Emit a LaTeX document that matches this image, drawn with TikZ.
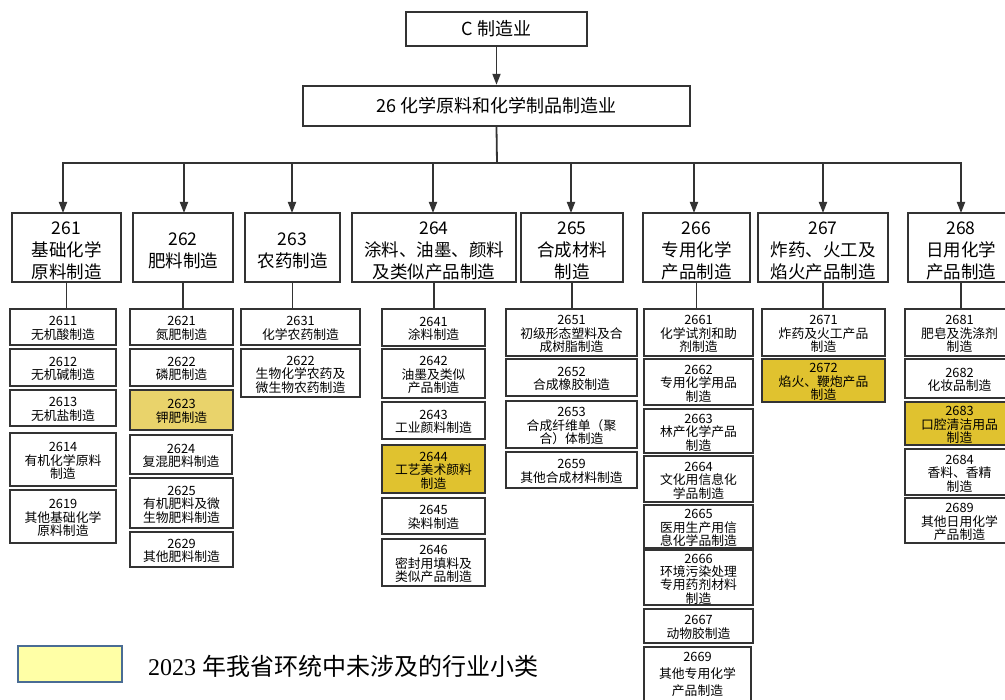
\documentclass[tikz,border=0pt]{standalone}
\usepackage{fontspec}
\setmainfont{Noto Sans CJK SC}
\newfontfamily\legfont{Liberation Serif}
\newfontfamily\cjkfont{Noto Sans CJK SC}
\usetikzlibrary{arrows.meta}
\definecolor{edge}{HTML}{333333}
\definecolor{goldA}{HTML}{E9D36B}
\definecolor{goldB}{HTML}{E0C22F}
\definecolor{legfill}{HTML}{FFFFA6}
\definecolor{legedge}{HTML}{4A6C94}
\tikzset{
  topframe/.style={draw=edge, line width=2.4pt, fill=white, inner sep=0pt},
  toptext/.style={inner sep=0pt, align=center, font=\fontsize{18}{22}\selectfont},
  midframe/.style={draw=edge, line width=2.6pt, fill=white, inner sep=0pt},
  midtext/.style={inner sep=0pt, align=center, yshift=-3pt, font=\fontsize{17.5}{22}\selectfont},
  subframe/.style={draw=edge, line width=1.8pt, fill=white, inner sep=0pt},
  subtext/.style={inner sep=0pt, align=center, yshift=-1.5pt, font=\fontsize{12.8}{13.4}\selectfont},
  hiA/.style={fill=goldA},
  hiB/.style={fill=goldB},
  conn/.style={draw=edge, line width=1.8pt},
  arr/.style={conn, -{Triangle[length=11pt,width=8pt]}},
}
% \bx{name}{x1}{y1}{x2}{y2}{frame style}{text style}{text}
\newcommand{\bx}[8]{%
  \pgfmathsetmacro{\bw}{#4-#2}\pgfmathsetmacro{\bh}{#5-#3}%
  \pgfmathsetmacro{\cx}{(#2+#4)/2}\pgfmathsetmacro{\cy}{(#3+#5)/2}%
  \node[#6, minimum width=\bw pt, minimum height=\bh pt] (#1) at (\cx,\cy) {};
  \node[#7] (#1-t) at (\cx,\cy) {#8};}
\begin{document}
\begin{tikzpicture}[x=1pt,y=-1pt]
\useasboundingbox (0,0) rectangle (1005,700);
\clip (0,0) rectangle (1005,700);
% top levels
\bx{C}{406}{12}{587}{46}{topframe}{toptext}{C 制造业}
\bx{n26}{303}{86}{690}{126}{topframe}{toptext}{26 化学原料和化学制品制造业}
\draw[arr] (C.south) -- (n26.north);
\coordinate (bus) at (497,163);
\draw[conn] (n26.south) -- (bus);
% level 2
\bx{n261}{12}{213}{121}{282}{midframe}{midtext}{261\\基础化学\\原料制造}
\bx{n262}{133}{213}{233}{282}{midframe}{midtext}{262\\肥料制造}
\bx{n263}{245}{213}{340}{282}{midframe}{midtext}{263\\农药制造}
\bx{n264}{352}{213}{516}{282}{midframe}{midtext}{264\\涂料、油墨、颜料\\及类似产品制造}
\bx{n265}{521}{213}{623}{282}{midframe}{midtext}{265\\合成材料\\制造}
\bx{n266}{643}{213}{750}{282}{midframe}{midtext}{266\\专用化学\\产品制造}
\bx{n267}{758}{213}{888}{282}{midframe}{midtext}{267\\炸药、火工及\\焰火产品制造}
\bx{n268}{908}{213}{1014}{282}{midframe}{midtext}{268\\日用化学\\产品制造}
\foreach \n/\x in {n261/63,n262/184,n263/292,n264/433,n265/571,n266/694,n267/823,n268/961}{
  \draw[arr] (bus) -| (\x,213);
}
% column 261
\bx{n2611}{10}{309}{116}{345}{subframe}{subtext}{2611\\无机酸制造}
\bx{n2612}{10}{349}{116}{386}{subframe}{subtext}{2612\\无机碱制造}
\bx{n2613}{10}{390}{116}{426}{subframe}{subtext}{2613\\无机盐制造}
\bx{n2614}{10}{433}{116}{486}{subframe}{subtext}{2614\\有机化学原料\\制造}
\bx{n2619}{10}{490}{116}{543}{subframe}{subtext}{2619\\其他基础化学\\原料制造}
% column 262
\bx{n2621}{130}{309}{233}{345}{subframe}{subtext}{2621\\氮肥制造}
\bx{n2622}{130}{349}{233}{386}{subframe}{subtext}{2622\\磷肥制造}
\bx{n2623}{130}{390}{233}{430}{subframe,hiA}{subtext}{2623\\钾肥制造}
\bx{n2624}{130}{435}{232}{474}{subframe}{subtext}{2624\\复混肥料制造}
\bx{n2625}{130}{478}{233}{528}{subframe}{subtext}{2625\\有机肥料及微\\生物肥料制造}
\bx{n2629}{130}{532}{233}{567}{subframe}{subtext}{2629\\其他肥料制造}
% column 263
\bx{n2631}{241}{309}{360}{345}{subframe}{subtext}{2631\\化学农药制造}
\bx{n2632}{241}{349}{360}{397}{subframe}{subtext}{2622\\生物化学农药及\\微生物农药制造}
% column 264
\bx{n2641}{382}{309}{485}{346}{subframe}{subtext}{2641\\涂料制造}
\bx{n2642}{382}{349}{485}{398}{subframe}{subtext}{2642\\油墨及类似\\产品制造}
\bx{n2643}{382}{402}{485}{439}{subframe}{subtext}{2643\\工业颜料制造}
\bx{n2644}{382}{445}{485}{493}{subframe,hiB}{subtext}{2644\\工艺美术颜料\\制造}
\bx{n2645}{382}{498}{485}{534}{subframe}{subtext}{2645\\染料制造}
\bx{n2646}{382}{539}{485}{586}{subframe}{subtext}{2646\\密封用填料及\\类似产品制造}
% column 265
\bx{n2651}{506}{309}{637}{356}{subframe}{subtext}{2651\\初级形态塑料及合\\成树脂制造}
\bx{n2652}{506}{359}{637}{396}{subframe}{subtext}{2652\\合成橡胶制造}
\bx{n2653}{506}{401}{637}{448}{subframe}{subtext}{2653\\合成纤维单（聚\\合）体制造}
\bx{n2659}{506}{452}{637}{488}{subframe}{subtext}{2659\\其他合成材料制造}
% column 266
\bx{n2661}{644}{309}{753}{356}{subframe}{subtext}{2661\\化学试剂和助\\剂制造}
\bx{n2662}{644}{359}{753}{405}{subframe}{subtext}{2662\\专用化学用品\\制造}
\bx{n2663}{644}{409}{753}{453}{subframe}{subtext}{2663\\林产化学产品\\制造}
\bx{n2664}{644}{456}{753}{502}{subframe}{subtext}{2664\\文化用信息化\\学品制造}
\bx{n2665}{644}{505}{753}{548}{subframe}{subtext}{2665\\医用生产用信\\息化学品制造}
\bx{n2666}{644}{550}{753}{605}{subframe}{subtext}{2666\\环境污染处理\\专用药剂材料\\制造}
\bx{n2667}{644}{609}{753}{643}{subframe}{subtext}{2667\\动物胶制造}
\bx{n2669}{644}{647}{751}{733}{subframe}{subtext,yshift=17.5pt,font=\fontsize{12.8}{17}\selectfont}{2669\\其他专用化学\\产品制造}
% column 267
\bx{n2671}{762}{309}{885}{356}{subframe}{subtext}{2671\\炸药及火工产品\\制造}
\bx{n2672}{762}{359}{885}{402}{subframe,hiB}{subtext}{2672\\焰火、鞭炮产品\\制造}
% column 268
\bx{n2681}{905}{309}{1014}{356}{subframe}{subtext}{2681\\肥皂及洗涤剂\\制造}
\bx{n2682}{905}{359}{1014}{398}{subframe}{subtext}{2682\\化妆品制造}
\bx{n2683}{905}{402}{1014}{445}{subframe,hiB}{subtext}{2683\\口腔清洁用品\\制造}
\bx{n2684}{905}{449}{1014}{495}{subframe}{subtext}{2684\\香料、香精\\制造}
\bx{n2689}{905}{498}{1014}{543}{subframe}{subtext}{2689\\其他日用化学\\产品制造}
% level 2 to level 3
\foreach \p/\c in {n261/n2611,n262/n2621,n263/n2631,n264/n2641,n265/n2651,n266/n2661,n267/n2671,n268/n2681}{
  \draw[conn] (\p.south) -- (\p.south |- \c.north);
}
% legend
\node[draw=legedge, line width=2pt, fill=legfill, minimum width=104pt, minimum height=36pt, inner sep=0pt] (leg) at (69.5,663.5) {};
\node[anchor=west, inner sep=0pt, font=\fontsize{24}{28}\selectfont] (legtxt) at (148,666) {\legfont 2023 \cjkfont 年我省环统中未涉及的行业小类};
\end{tikzpicture}
\end{document}
